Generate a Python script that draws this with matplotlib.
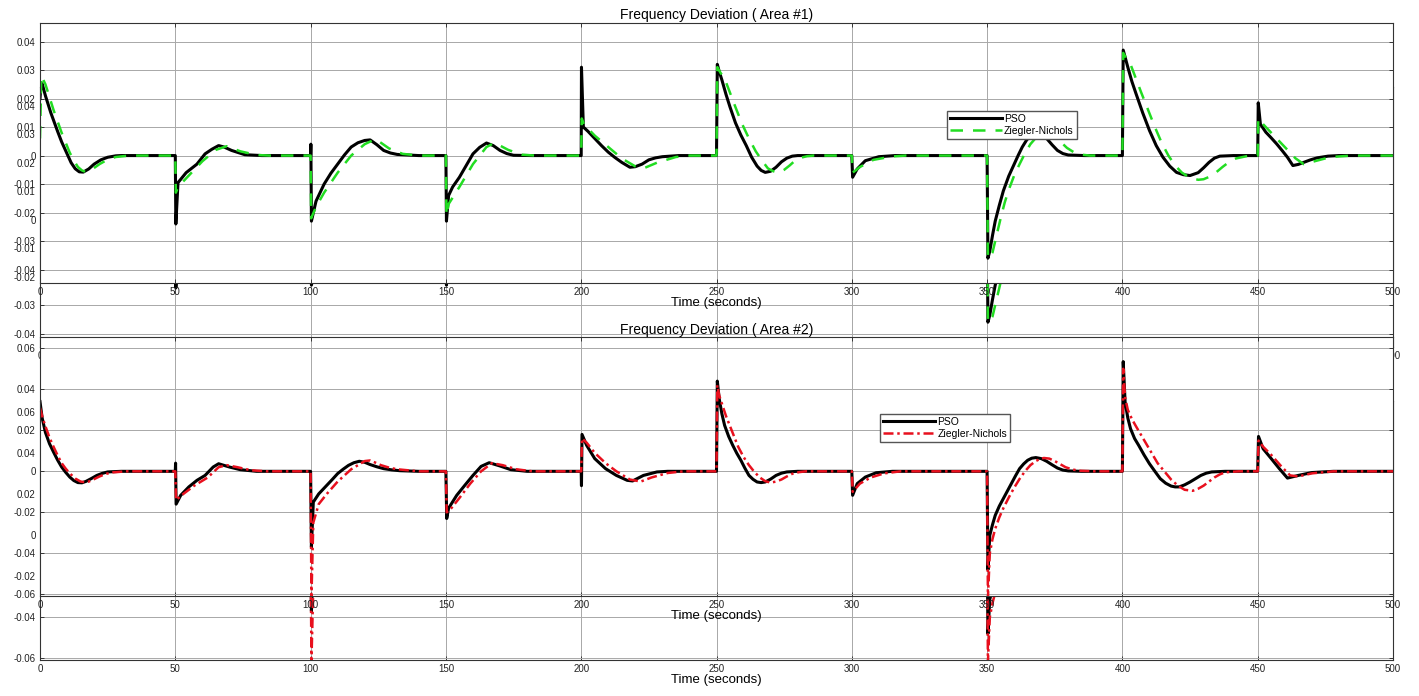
import matplotlib.pyplot as plt

# ---- data (time in s, frequency deviation) ----
top_t_pso = [0, 0.3, 0.8, 2, 3, 4, 5, 6.5, 8, 10, 11.5, 13, 14.5, 16, 18, 20, 22.5, 25, 28, 30,
             50, 50.2, 51, 54, 58, 61, 63.5, 66, 68, 70.8, 75.7, 82,
             100, 100.1, 100.3, 102, 105, 107.5, 110, 112.5, 115, 117.5, 120, 122, 124.5, 127, 129.5, 132, 140,
             150, 150.2, 151, 152.5, 155, 157.5, 160, 162.5, 165, 167.5, 170, 172.5, 175, 182,
             200, 200.1, 200.8, 202.5, 205, 207.5, 210, 212.5, 215, 218, 220, 222.5, 225, 227.5, 230, 236,
             250, 250.3, 251, 252, 253.5, 255, 257, 259, 261, 263, 265, 266.5, 268, 270, 272, 274, 276, 278, 280,
             300, 300.3, 302, 305, 310, 316,
             350, 350.3, 351, 352, 353, 354.5, 356, 358, 360, 361.5, 363, 364.5, 366, 367.5, 369, 370.5, 372,
             374, 376, 378, 380, 386,
             400, 400.3, 401, 402, 403.5, 405, 407.5, 410, 412.5, 415, 417.5, 420, 422.5, 425, 428, 430, 432,
             434, 436, 441,
             450, 450.2, 451, 453, 455, 457, 459, 461, 463, 465, 467, 469.5, 472, 476, 480, 500]
top_pso = [0.02, 0.024, 0.0252, 0.021, 0.018, 0.015, 0.0124, 0.0085, 0.0048, 0.0006, -0.0025, -0.0046,
           -0.0057, -0.0058, -0.0047, -0.003, -0.0015, -0.0006, -0.0001, 0,
           0, -0.024, -0.0095, -0.006, -0.003, 0.0006, 0.0022, 0.0035, 0.003, 0.0018, 0.0003, 0,
           0, 0.004, -0.023, -0.016, -0.01, -0.0062, -0.003, 0.0002, 0.003, 0.0045, 0.0053, 0.0055, 0.0038,
           0.0018, 0.0009, 0.0004, 0,
           0, -0.023, -0.014, -0.011, -0.0076, -0.0035, 0.0006, 0.0029, 0.0044, 0.0035, 0.0018, 0.0007,
           0.0001, 0,
           0, 0.031, 0.01, 0.0085, 0.006, 0.0035, 0.0012, -0.0007, -0.0024, -0.0041, -0.0039, -0.003,
           -0.0015, -0.0008, -0.0004, 0,
           0, 0.032, 0.0295, 0.0265, 0.0215, 0.017, 0.0115, 0.0072, 0.0035, -0.0006, -0.0037, -0.0052,
           -0.0059, -0.0055, -0.0041, -0.0022, -0.0009, -0.0002, 0,
           0, -0.0076, -0.0047, -0.0018, -0.0004, 0,
           0, -0.036, -0.0335, -0.028, -0.023, -0.0175, -0.0124, -0.0072, -0.003, 0.0001, 0.003, 0.0053,
           0.007, 0.0079, 0.0082, 0.0075, 0.006, 0.0038, 0.0018, 0.0007, 0.0002, 0,
           0, 0.037, 0.0345, 0.031, 0.026, 0.0218, 0.015, 0.0088, 0.0035, -0.0006, -0.0037, -0.0059,
           -0.0067, -0.007, -0.006, -0.0043, -0.0024, -0.0009, -0.0002, 0,
           0, 0.0185, 0.011, 0.0082, 0.0062, 0.0041, 0.0018, -0.0006, -0.0035, -0.0031, -0.0024, -0.0015,
           -0.0008, -0.0002, 0, 0]

top_t_zn = [0, 0.5, 2, 3.5, 5, 6.5, 8, 9.5, 11, 12.5, 14, 15.5, 17, 19, 20.5, 22, 25, 28, 33,
            50, 50.2, 51, 55, 60, 65, 69, 74, 80, 85,
            100, 100.2, 102, 105, 110, 115, 120, 124, 129, 134, 140,
            150, 150.2, 151, 155, 160, 165, 168, 173, 178, 183,
            200, 200.2, 201, 205, 210, 215, 220, 223, 228, 235, 240,
            250, 250.3, 251.5, 253, 255, 257, 259.5, 262, 264.5, 267, 269, 271, 273, 275, 277, 279, 281,
            283.5, 286,
            300, 300.3, 303, 308, 315, 320,
            350, 350.3, 352, 353.5, 355, 356.5, 358, 360, 362, 364, 366, 368, 370, 373, 375, 377, 379.5,
            382, 385, 388,
            400, 400.3, 401.5, 403, 405, 407, 409.5, 412, 414.5, 417, 419.5, 422, 425, 428, 430, 432, 434.5,
            437, 439.5, 442, 447,
            450, 450.2, 452, 456, 460, 464, 467, 471, 477, 485, 500]
top_zn = [0.006, 0.028, 0.025, 0.0205, 0.016, 0.012, 0.008, 0.0045, 0.001, -0.0017, -0.004, -0.0052,
          -0.0058, -0.005, -0.004, -0.003, -0.0014, -0.0005, 0,
          0, -0.013, -0.011, -0.007, -0.002, 0.002, 0.0033, 0.0015, 0.0002, 0,
          0, -0.022, -0.018, -0.013, -0.006, 0.0, 0.004, 0.0058, 0.0025, 0.0006, 0,
          0, -0.021, -0.017, -0.011, -0.003, 0.003, 0.0045, 0.002, 0.0003, 0,
          0, 0.013, 0.011, 0.007, 0.003, -0.001, -0.0038, -0.0045, -0.0025, -0.0005, 0,
          0, 0.031, 0.029, 0.027, 0.022, 0.017, 0.011, 0.006, 0.0015, -0.002, -0.0045, -0.0055, -0.006,
          -0.005, -0.0035, -0.0018, -0.0008, -0.0002, 0,
          0, -0.006, -0.004, -0.0015, -0.0003, 0,
          0, -0.036, -0.034, -0.028, -0.022, -0.0165, -0.012, -0.007, -0.003, 0.0008, 0.004, 0.0062,
          0.0075, 0.008, 0.0068, 0.005, 0.0027, 0.0012, 0.0003, 0,
          0, 0.036, 0.034, 0.032, 0.027, 0.022, 0.016, 0.01, 0.0045, 0.0, -0.0035, -0.006, -0.0078,
          -0.0085, -0.0083, -0.0075, -0.006, -0.004, -0.0022, -0.001, 0,
          0, 0.013, 0.011, 0.007, 0.003, -0.001, -0.003, -0.002, -0.0005, 0, 0]

bot_t_pso = [0, 0.8, 2, 3.5, 5, 6.5, 8, 9.5, 11, 12.5, 14, 15.5, 17, 19, 21, 23, 25, 30,
             50, 50.1, 50.3, 52, 55, 58, 61, 64, 66, 70, 74, 80,
             100, 100.3, 101, 103, 106, 108, 110, 112, 114, 116, 118, 120, 122, 124.5, 127, 130, 133, 140,
             150, 150.3, 151, 154, 157, 160, 163, 166, 170, 174, 180,
             200, 200.1, 200.3, 202, 205, 209, 213, 217, 219, 223, 228, 232,
             250, 250.3, 251, 252, 253, 254.5, 256, 257.5, 259, 260.5, 262, 263.5, 265, 266.5, 268, 270, 272,
             274, 276, 280,
             300, 300.3, 302, 305, 309, 315,
             350, 350.3, 351, 352, 353, 354.5, 356, 357.5, 359, 360.5, 362, 363.5, 365, 366.5, 368, 370, 372,
             374, 376, 378, 380, 385,
             400, 400.3, 401, 402, 403, 404.5, 406, 408, 410, 412, 414, 416, 418, 419.5, 421, 423, 425, 427,
             429, 431, 433, 438,
             450, 450.3, 452, 455, 458, 461, 465, 470, 478, 500]
bot_pso = [0.034, 0.026, 0.019, 0.0135, 0.0094, 0.0055, 0.0021, -0.0005, -0.0028, -0.0045, -0.0055,
           -0.0056, -0.0049, -0.0035, -0.002, -0.001, -0.0003, 0,
           0, 0.004, -0.016, -0.0117, -0.0076, -0.0044, -0.002, 0.0021, 0.0037, 0.0021, 0.0008, 0,
           0, -0.037, -0.015, -0.011, -0.0068, -0.004, -0.0011, 0.001, 0.0029, 0.0042, 0.0049, 0.0044,
           0.0033, 0.0022, 0.0013, 0.0007, 0.0003, 0,
           0, -0.023, -0.018, -0.0117, -0.0068, -0.002, 0.0024, 0.0042, 0.0026, 0.0008, 0,
           0, -0.007, 0.018, 0.0127, 0.0062, 0.0013, -0.002, -0.0044, -0.0047, -0.002, -0.0003, 0,
           0, 0.044, 0.0354, 0.028, 0.0224, 0.017, 0.0127, 0.0088, 0.0054, 0.0015, -0.002, -0.0039, -0.0052,
           -0.0055, -0.0052, -0.0038, -0.002, -0.0009, -0.0003, 0,
           0, -0.0117, -0.006, -0.0028, -0.0007, 0,
           0, -0.048, -0.0312, -0.026, -0.0215, -0.017, -0.0133, -0.0095, -0.006, -0.0022, 0.0013, 0.0036,
           0.0054, 0.0064, 0.0067, 0.0062, 0.0049, 0.0032, 0.0016, 0.0006, 0.0002, 0,
           0, 0.0535, 0.0338, 0.026, 0.0208, 0.016, 0.0127, 0.008, 0.0037, 0.0, -0.0036, -0.0058, -0.0072,
           -0.0076, -0.0076, -0.0066, -0.0052, -0.0036, -0.002, -0.0009, -0.0003, 0,
           0, 0.017, 0.011, 0.0062, 0.0013, -0.0033, -0.002, -0.0006, 0, 0]

bot_t_zn = [0, 1, 2, 3.5, 5, 6.5, 8, 9.5, 11, 13, 15, 16.5, 18, 20, 22, 24.5, 27, 32,
            50, 50.3, 53, 57, 62, 66, 69, 73, 78, 84,
            100, 100.3, 101, 103, 106, 108, 110, 112.5, 115, 117.5, 120, 122, 124, 126, 129, 132, 140,
            150, 150.3, 152, 155, 159, 163, 167, 171, 176, 182,
            200, 200.3, 202, 205, 209, 213, 218, 222, 226, 232, 238,
            250, 250.3, 251, 252, 253.5, 255, 256.5, 258, 260, 262, 264, 266, 268, 270, 272, 274, 276, 278,
            280.5, 283,
            300, 300.3, 303, 307, 312, 318,
            350, 350.3, 351, 352, 353, 354.5, 356, 358, 360, 362, 364, 366, 368, 369.5, 371, 373, 375, 377,
            379, 381.5, 384, 390,
            400, 400.3, 401, 402, 403.5, 405, 407, 409, 411, 413, 415.5, 418, 420.5, 423, 426, 428, 430, 432,
            434, 436, 438, 443,
            450, 450.3, 452, 455, 459, 462, 465, 470, 478, 500]
bot_zn = [0.031, 0.026, 0.022, 0.0165, 0.012, 0.0078, 0.004, 0.0013, -0.001, -0.0035, -0.005, -0.0053,
          -0.005, -0.0038, -0.0025, -0.0012, -0.0005, 0,
          0, -0.014, -0.011, -0.007, -0.003, 0.002, 0.003, 0.002, 0.0005, 0,
          0, -0.062, -0.025, -0.016, -0.011, -0.008, -0.005, -0.002, 0.001, 0.003, 0.005, 0.0053, 0.0042,
          0.003, 0.0018, 0.001, 0,
          0, -0.02, -0.018, -0.013, -0.006, 0.0, 0.004, 0.003, 0.001, 0,
          0, 0.016, 0.014, 0.009, 0.004, 0.0, -0.004, -0.005, -0.003, -0.0008, 0,
          0, 0.042, 0.037, 0.033, 0.027, 0.022, 0.017, 0.012, 0.007, 0.003, -0.0003, -0.003, -0.0048,
          -0.0055, -0.005, -0.004, -0.0025, -0.0012, -0.0004, 0,
          0, -0.01, -0.006, -0.003, -0.001, 0,
          0, -0.062, -0.04, -0.033, -0.028, -0.0225, -0.018, -0.0128, -0.008, -0.0037, 0.0, 0.003, 0.005,
          0.006, 0.0065, 0.0062, 0.005, 0.0035, 0.002, 0.0009, 0.0003, 0,
          0, 0.05, 0.036, 0.03, 0.0255, 0.022, 0.0175, 0.013, 0.0085, 0.004, 0.0, -0.004, -0.007, -0.009,
          -0.0095, -0.0085, -0.007, -0.005, -0.003, -0.0015, -0.0005, 0,
          0, 0.015, 0.012, 0.008, 0.002, -0.002, -0.0025, -0.001, 0, 0]

x_ticks = list(range(0, 501, 50))
top_yticks = [-0.04, -0.03, -0.02, -0.01, 0, 0.01, 0.02, 0.03, 0.04]
bot_yticks = [-0.06, -0.04, -0.02, 0, 0.02, 0.04, 0.06]

W, H = 1419, 696
plt.rcParams['font.family'] = ['Liberation Sans', 'DejaVu Sans']
fig = plt.figure(figsize=(W / 100, H / 100), dpi=100)


def px_axes(left, top, right, bottom, z):
    ax = fig.add_axes([left / W, 1 - bottom / H, (right - left) / W, (bottom - top) / H])
    ax.set_zorder(z)
    return ax


def style(ax, ylim, yticks):
    ax.set_xlim(0, 500)
    ax.set_ylim(*ylim)
    ax.set_xticks(x_ticks)
    ax.set_yticks(yticks)
    ax.set_yticklabels([f'{v:g}' for v in yticks])
    ax.tick_params(direction='in', labelsize=7, length=3, width=0.6, colors='#222222',
                   top=True, right=True, pad=3)
    ax.grid(True, color='#a8a8a8', lw=0.7)
    for s in ax.spines.values():
        s.set_color('#333333')
        s.set_linewidth(0.8)
    ax.set_xlabel('Time (seconds)', fontsize=9.5, labelpad=0)


def draw_top(ax):
    style(ax, (-0.0447, 0.0465), top_yticks)
    ax.plot(top_t_pso, top_pso, color='black', lw=2.2, label='PSO', solid_joinstyle='round')
    ax.plot(top_t_zn, top_zn, color='#22dd22', lw=1.8, ls=(0, (5, 4)), label='Ziegler-Nichols')


def draw_bot(ax):
    style(ax, (-0.0608, 0.0655), bot_yticks)
    ax.plot(bot_t_pso, bot_pso, color='black', lw=2.2, label='PSO', solid_joinstyle='round')
    ax.plot(bot_t_zn, bot_zn, color='#e8101e', lw=1.8, ls=(0, (4, 1.5, 1, 1.5)), label='Ziegler-Nichols')


def add_legend(ax, anchor):
    ax.legend(loc='upper left', bbox_to_anchor=anchor, fontsize=7.5, fancybox=False,
              edgecolor='#555555', framealpha=1, handlelength=5, borderpad=0.3,
              labelspacing=0.15, handletextpad=0.2, borderaxespad=0)


# copies sitting behind the panels (the picture is two exports stacked with an offset)
g1 = px_axes(40, 87, 1393, 347, 1)
draw_top(g1)
g2 = px_axes(40, 401, 1393, 660, 1)
draw_bot(g2)

ax1 = px_axes(40, 23, 1393, 283, 2)
draw_top(ax1)
ax1.set_title('Frequency Deviation ( Area #1)', fontsize=10, pad=3)
add_legend(ax1, (0.670, 0.662))

ax2 = px_axes(40, 337, 1393, 596, 3)
draw_bot(ax2)
ax2.set_title('Frequency Deviation ( Area #2)', fontsize=10, pad=2)
add_legend(ax2, (0.621, 0.703))

fig.savefig('out.png', dpi=100)
